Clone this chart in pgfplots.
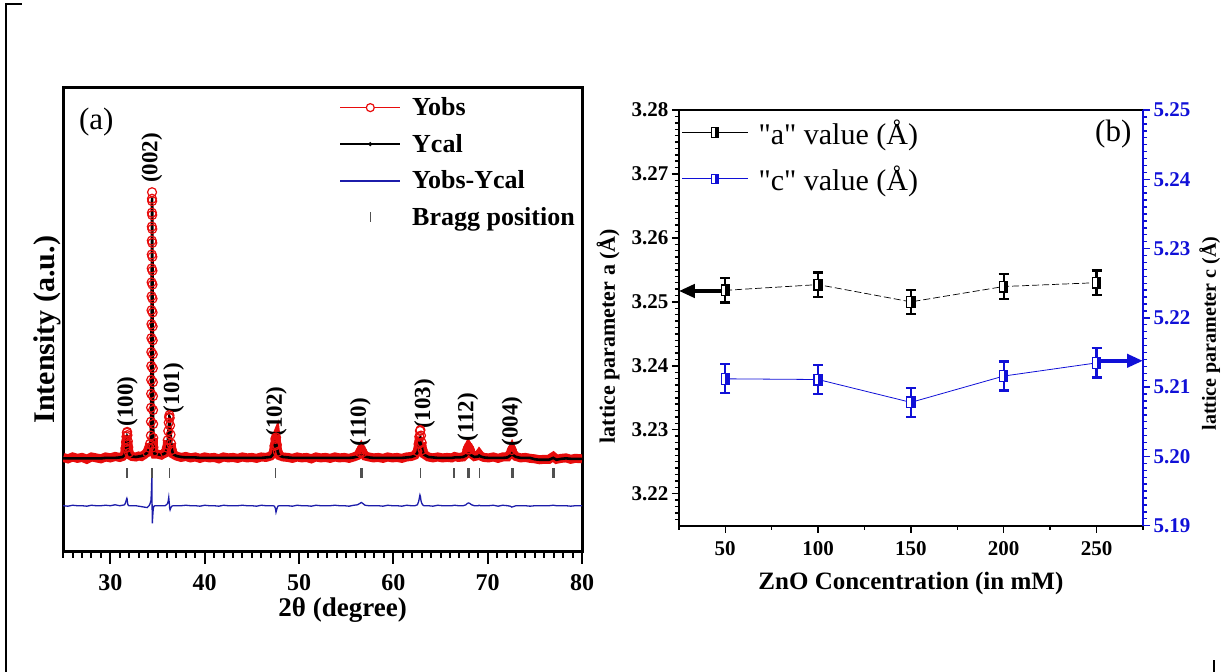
\documentclass[border=0pt]{standalone}
\usepackage{fontspec}
\setmainfont{Liberation Serif}
\usepackage{pgfplots}
\pgfplotsset{compat=1.18}
\usepackage{pgfplotstable}
\usetikzlibrary{plotmarks,arrows.meta}

\definecolor{obsred}{RGB}{232,12,12}
\definecolor{difblue}{RGB}{28,28,170}
\definecolor{axblue}{RGB}{16,16,215}
\definecolor{braggray}{RGB}{80,80,80}

% upright rectangle, left half white, right half in the fill colour
\pgfdeclareplotmark{halfrect}{%
  \begin{pgfscope}
    \pgfsetfillcolor{white}%
    \pgfpathrectangle{\pgfpoint{-0.9\pgfplotmarksize}{-1.2\pgfplotmarksize}}{\pgfpoint{0.9\pgfplotmarksize}{2.4\pgfplotmarksize}}%
    \pgfusepathqfill
  \end{pgfscope}
  \pgfpathrectangle{\pgfpoint{0pt}{-1.2\pgfplotmarksize}}{\pgfpoint{0.9\pgfplotmarksize}{2.4\pgfplotmarksize}}%
  \pgfusepathqfill
  \pgfpathrectangle{\pgfpoint{-0.9\pgfplotmarksize}{-1.2\pgfplotmarksize}}{\pgfpoint{1.8\pgfplotmarksize}{2.4\pgfplotmarksize}}%
  \pgfusepathqstroke
}

% Rietveld refinement: 2theta, observed, calculated, difference (offset)
\pgfplotstableread{
x obs cal dif
25.0 20.3 20.1 9.9
25.5 20.0 20.1 9.8
26.0 20.4 20.1 10.0
26.5 20.1 20.1 9.9
27.0 20.3 20.1 9.9
27.5 19.9 20.1 9.8
28.0 20.4 20.1 10.0
28.5 20.2 20.1 9.9
29.0 20.0 20.1 9.9
29.5 20.4 20.2 10.0
30.0 20.2 20.2 9.9
30.5 20.5 20.2 10.1
31.0 20.3 20.3 9.9
31.3 20.5 20.4 10.0
31.5 21.0 20.8 10.1
31.6 22.3 21.8 10.5
31.66 23.6 22.9 10.9
31.71 24.8 23.7 11.3
31.75 25.6 24.2 11.5
31.78 25.8 24.6 11.3
31.81 25.1 24.4 10.7
31.85 23.8 23.4 10.2
31.9 22.5 22.4 10.0
31.97 21.3 21.3 9.9
32.05 20.8 20.8 9.9
32.3 20.5 20.5 9.9
32.7 20.4 20.4 9.9
33.0 20.6 20.5 9.8
33.3 20.5 20.6 9.7
33.6 20.9 20.8 9.6
33.9 21.4 21.3 9.5
34.1 22.4 22.1 9.9
34.2 23.2 22.7 10.3
34.300 25.0 23.9 11.0
34.310 28.0 26.6 11.3
34.318 31.0 29.3 11.6
34.325 34.0 32.0 11.9
34.332 37.0 34.8 12.1
34.338 40.0 37.5 12.4
34.344 43.0 40.2 12.7
34.350 46.0 42.9 13.0
34.356 49.0 45.6 13.3
34.362 52.0 48.2 13.7
34.368 55.0 50.8 14.1
34.374 58.0 53.3 14.6
34.380 61.0 55.8 15.1
34.386 64.0 58.3 15.6
34.392 67.0 60.8 16.1
34.398 70.0 63.7 16.2
34.405 73.0 67.6 15.3
34.412 76.0 72.3 13.6
34.420 77.4 76.0 11.3
34.428 75.5 76.0 9.4
34.435 72.5 74.4 8.0
34.441 69.5 72.5 6.9
34.447 66.5 70.2 6.2
34.453 63.5 67.3 6.1
34.459 60.5 64.0 6.4
34.465 57.5 60.8 6.6
34.471 54.5 57.6 6.8
34.477 51.5 54.3 7.1
34.483 48.5 51.1 7.3
34.489 45.5 47.9 7.5
34.495 42.5 44.7 7.7
34.501 39.5 41.5 7.9
34.508 36.5 38.3 8.1
34.515 33.5 35.1 8.3
34.523 30.5 31.8 8.6
34.532 27.5 28.6 8.8
34.545 24.5 25.3 9.1
34.565 22.5 23.0 9.4
34.600 21.5 21.7 9.7
34.700 21.0 21.0 9.9
35.0 21.0 21.0 9.9
35.4 20.8 20.8 9.9
35.8 21.3 21.2 9.9
36.0 22.4 22.1 10.2
36.08 24.0 23.4 10.5
36.14 26.0 25.2 11.0
36.19 27.8 26.9 11.7
36.23 29.0 28.4 10.8
36.26 29.4 29.1 10.2
36.29 28.8 29.0 9.3
36.33 27.2 27.9 9.0
36.38 25.2 25.8 9.3
36.44 23.3 23.6 9.6
36.52 21.9 22.0 9.8
36.65 21.0 21.0 9.9
37.0 20.6 20.6 9.9
37.5 20.3 20.4 9.9
38.0 20.5 20.3 10.0
38.5 20.2 20.3 9.9
39.0 20.4 20.3 9.9
39.5 20.1 20.2 9.8
40.0 20.4 20.2 10.0
40.5 20.2 20.2 9.9
41.0 20.3 20.2 9.9
41.5 20.0 20.2 9.8
42.0 20.4 20.2 10.0
42.5 20.2 20.2 9.9
43.0 20.3 20.2 9.9
43.5 20.1 20.2 9.9
44.0 20.4 20.2 10.0
44.5 20.2 20.2 9.9
45.0 20.3 20.2 9.9
45.5 20.1 20.2 9.8
46.0 20.4 20.2 10.0
46.5 20.3 20.3 9.9
47.0 20.6 20.4 9.9
47.25 21.2 21.0 9.9
47.4 22.8 22.6 9.8
47.5 24.3 23.7 9.3
47.56 24.6 23.7 8.5
47.65 23.0 23.0 9.2
47.75 21.5 21.4 9.8
47.9 20.7 20.7 9.9
48.3 20.4 20.4 9.9
48.8 20.3 20.3 9.9
49.3 20.1 20.2 9.8
49.8 20.4 20.2 10.0
50.3 20.2 20.2 9.9
50.8 20.3 20.2 9.9
51.3 20.0 20.2 9.8
51.8 20.4 20.2 10.0
52.3 20.2 20.2 9.9
52.8 20.3 20.2 9.9
53.3 20.1 20.2 9.9
53.8 20.4 20.2 10.0
54.3 20.2 20.2 9.9
54.8 20.3 20.2 9.9
55.3 20.1 20.2 9.8
55.8 20.4 20.3 10.0
56.2 20.7 20.5 10.1
56.45 21.4 20.8 10.4
56.6 22.0 21.0 10.6
56.75 21.4 20.8 10.4
57.0 20.6 20.5 10.0
57.4 20.4 20.3 9.9
57.9 20.2 20.2 9.9
58.4 20.3 20.2 9.9
58.9 20.1 20.2 9.8
59.4 20.4 20.2 10.0
59.9 20.2 20.2 9.9
60.4 20.3 20.2 9.9
60.9 20.1 20.2 9.8
61.4 20.4 20.3 10.0
61.9 20.5 20.4 9.9
62.3 20.8 20.7 9.9
62.55 21.6 21.3 10.1
62.68 23.2 22.3 10.8
62.76 24.8 23.5 11.6
62.82 26.0 24.2 12.2
62.87 26.2 24.5 11.9
62.93 25.0 24.0 11.0
63.0 23.5 22.9 10.5
63.1 21.9 21.6 10.1
63.25 21.0 20.9 9.9
63.7 20.4 20.4 9.9
64.2 20.2 20.3 9.8
64.7 20.4 20.2 10.0
65.2 20.2 20.2 9.9
65.7 20.3 20.2 9.9
66.2 20.2 20.2 9.9
66.5 20.5 20.3 10.0
66.9 20.3 20.3 9.9
67.4 20.4 20.4 9.9
67.7 21.0 20.7 10.1
67.85 22.0 21.1 10.4
67.96 22.5 21.3 10.5
68.1 22.0 21.1 10.4
68.3 21.0 20.7 10.1
68.6 20.5 20.4 9.9
69.0 20.7 20.5 9.9
69.1 21.0 20.7 10.0
69.25 20.6 20.5 9.9
69.6 20.3 20.3 9.9
70.1 20.2 20.2 9.9
70.6 20.4 20.2 10.0
71.1 20.1 20.2 9.8
71.6 20.4 20.2 10.0
72.1 20.4 20.3 9.9
72.4 21.2 20.7 9.8
72.56 21.9 21.1 9.6
72.7 21.2 20.8 9.7
73.0 20.5 20.4 9.9
73.5 20.2 20.2 9.9
74.0 20.3 20.2 9.9
74.5 20.1 20.2 9.8
75.0 20.0 19.9 9.9
75.5 19.8 19.8 9.9
76.0 19.9 19.8 9.9
76.5 19.9 19.8 9.9
76.95 20.5 20.2 10.0
77.3 19.9 19.8 9.9
77.8 20.1 20.0 9.9
78.3 20.2 20.1 9.9
78.8 19.9 20.0 9.8
79.3 20.1 20.0 9.9
80.0 20.0 20.0 9.9
}\xrd

% Bragg reflection positions (tick row)
\pgfplotstableread{
x y
31.77 16.9
34.42 16.9
36.25 16.9
47.54 16.9
56.55 16.9
56.67 16.9
62.86 16.9
66.43 16.9
67.93 16.9
68.07 16.9
69.15 16.9
72.53 16.9
72.67 16.9
76.93 16.9
77.07 16.9
}\bragg

% lattice parameters vs ZnO concentration
\pgfplotstableread{
conc a aerr c cerr
50  3.2518 0.0019 5.2112 0.0021
100 3.2527 0.0019 5.2111 0.0021
150 3.2500 0.0019 5.2078 0.0021
200 3.2524 0.0019 5.2116 0.0021
250 3.2530 0.0019 5.2135 0.0021
}\lattice

\begin{document}
\begin{tikzpicture}
\useasboundingbox (0pt,0pt) rectangle (1224pt,672pt);
\draw[line width=2pt] (6pt,0pt) -- (6pt,668pt) -- (22pt,668pt);
\draw[line width=2pt] (1214pt,0pt) -- (1214pt,12pt);

% ---------------- (a) XRD refinement ----------------
\begin{axis}[
  at={(63.2pt,120.3pt)}, anchor=south west,
  scale only axis, width=518.8pt, height=464.4pt,
  xmin=25, xmax=80, ymin=0, ymax=100,
  ytick=\empty,
  xtick={30,40,...,80},
  minor xtick={25,26,...,80},
  xtick pos=bottom,
  tick align=outside,
  major tick length=12pt, minor tick length=6pt,
  every tick/.style={black, line width=2pt},
  axis line style={line width=3pt},
  /pgf/number format/assume math mode=true,
  xticklabel style={font=\bfseries\fontsize{24}{24}\selectfont, yshift=-7pt},
  xlabel={2θ (degree)},
  xlabel style={font=\bfseries\fontsize{27}{27}\selectfont, xshift=20pt},
  ylabel={Intensity (a.u.)},
  ylabel style={font=\bfseries\fontsize{30}{30}\selectfont,
    at={(axis description cs:-0.031,0.478)}, anchor=center},
  legend image code/.code={\draw[mark repeat=2,mark phase=2,#1] plot coordinates {(0pt,0pt) (30pt,0pt) (60pt,0pt)};},
  legend style={draw=none, fill=none, at={(0.532,0.982)}, anchor=north west,
    font=\bfseries\fontsize{26}{26}\selectfont, row sep=13pt, column sep=9pt, inner sep=0pt},
  legend cell align=left,
]
\addlegendimage{obsred, line width=1.5pt, mark=*, mark size=4pt, mark options={fill=white, line width=1.2pt}}
\addlegendimage{black, line width=1.8pt, mark=*, mark size=1pt}
\addlegendimage{difblue, line width=1.6pt}
\addlegendimage{only marks, braggray, mark=|, mark size=5pt, mark options={line width=1.2pt}}
\legend{Yobs, Ycal, Yobs-Ycal, Bragg position}

% noisy baseline band of the observed pattern
\addplot[forget plot, obsred, line width=9pt, unbounded coords=jump,
  y filter/.expression={y>24.9 ? nan : y}] table[x=x, y=obs] {\xrd};
% observed points on the reflections
\addplot[forget plot, only marks, obsred, mark=o, mark size=4.5pt, mark options={line width=1.2pt},
  unbounded coords=discard, y filter/.expression={y<21.3 ? nan : y}] table[x=x, y=obs] {\xrd};
\addplot[forget plot, black, line width=2.6pt] table[x=x, y=cal] {\xrd};
\addplot[forget plot, difblue, line width=1.3pt] table[x=x, y=dif] {\xrd};
\addplot[forget plot, only marks, braggray, mark=|, mark size=5pt, mark options={line width=1.3pt}] table[x=x, y=y] {\bragg};

\node[font=\fontsize{31}{31}\selectfont] at (axis cs:28.5,92.6) {(a)};
\begin{scope}[every node/.style={rotate=90, anchor=west, inner sep=0pt, font=\bfseries\fontsize{23}{23}\selectfont}]
\node at (axis cs:31.8,26.9) {(100)};
\node at (axis cs:34.4,79.4) {(002)};
\node at (axis cs:36.7,29.8) {(101)};
\node at (axis cs:47.6,24.8) {(102)};
\node at (axis cs:56.5,22.6) {(110)};
\node at (axis cs:63.3,26.4) {(103)};
\node at (axis cs:67.9,23.7) {(112)};
\node at (axis cs:72.6,22.6) {(004)};
\end{scope}
\end{axis}

% ---------------- (b) lattice parameters, left scale a ----------------
\begin{axis}[
  at={(678.8pt,146.3pt)}, anchor=south west,
  scale only axis, width=464.2pt, height=415.7pt,
  xmin=25, xmax=275, ymin=3.215, ymax=3.28,
  xtick={50,100,...,250},
  minor xtick={25,75,...,275},
  ytick={3.22,3.23,3.24,3.25,3.26,3.27,3.28},
  minor ytick={3.216,3.217,...,3.2801},
  xtick pos=bottom, ytick pos=left,
  tick align=outside,
  major tick length=7pt, minor tick length=4pt,
  every tick/.style={black, line width=1.4pt},
  axis line style={line width=2pt},
  /pgf/number format/assume math mode=true,
  xticklabel style={font=\bfseries\fontsize{21}{21}\selectfont, yshift=-5pt},
  yticklabel style={font=\bfseries\fontsize{21}{21}\selectfont,
    /pgf/number format/.cd, fixed, fixed zerofill, precision=2},
  xlabel={ZnO Concentration (in mM)},
  xlabel style={font=\bfseries\fontsize{25}{25}\selectfont, yshift=-10pt},
  ylabel={lattice parameter a (Å)},
  ylabel style={font=\bfseries\fontsize{22}{22}\selectfont,
    at={(axis description cs:-0.1525,0.456)}, anchor=center},
  legend image code/.code={\draw[mark repeat=2,mark phase=2,#1] plot coordinates {(0pt,0pt) (33pt,0pt) (66pt,0pt)};},
  legend style={draw=none, fill=none, at={(0.006,0.982)}, anchor=north west,
    font=\fontsize{30}{30}\selectfont, row sep=16pt, column sep=8pt, inner sep=0pt},
  legend cell align=left,
]
\addlegendimage{black, line width=0.8pt, mark=halfrect, mark size=4pt, mark options={fill=black, line width=1pt}}
\addlegendimage{axblue, line width=0.8pt, mark=halfrect, mark size=4pt, mark options={fill=axblue, line width=1pt}}
\legend{\textquotedbl a\textquotedbl{} value (Å), \textquotedbl c\textquotedbl{} value (Å)}

\addplot[forget plot, black, line width=0.7pt, dash pattern=on 7pt off 3pt,
  mark=halfrect, mark size=4.5pt, mark options={solid, fill=black, line width=1.2pt},
  error bars/.cd, y dir=both, y explicit,
  error bar style={line width=2.2pt, solid},
  error mark options={rotate=90, mark size=5pt, line width=2.2pt}]
  table[x=conc, y=a, y error=aerr] {\lattice};

\draw[black, line width=4pt, -{Triangle[length=16pt, width=13pt]}] (axis cs:47.8,3.2517) -- (axis cs:25,3.2517);
\node[font=\fontsize{31}{31}\selectfont] at (axis cs:259,3.2763) {(b)};
\end{axis}

% ---------------- (b) right scale c ----------------
\begin{axis}[
  at={(678.8pt,146.3pt)}, anchor=south west,
  scale only axis, width=464.2pt, height=415.7pt,
  xmin=25, xmax=275, ymin=5.19, ymax=5.25,
  axis y line*=right, axis x line=none,
  ytick={5.19,5.20,5.21,5.22,5.23,5.24,5.25},
  minor ytick={5.191,5.192,...,5.2501},
  tick align=outside,
  major tick length=7pt, minor tick length=4pt,
  every tick/.style={axblue, line width=1.4pt},
  y axis line style={axblue, line width=2pt},
  /pgf/number format/assume math mode=true,
  yticklabel style={axblue, font=\bfseries\fontsize{21}{21}\selectfont,
    /pgf/number format/.cd, fixed, fixed zerofill, precision=2},
  ylabel={lattice parameter c (Å)},
  ylabel style={font=\bfseries\fontsize{20}{20}\selectfont,
    at={(axis description cs:1.1435,0.462)}, anchor=center},
]
\addplot[axblue, line width=0.8pt,
  mark=halfrect, mark size=4.5pt, mark options={fill=axblue, line width=1.2pt},
  error bars/.cd, y dir=both, y explicit,
  error bar style={line width=2.2pt},
  error mark options={rotate=90, mark size=5pt, line width=2.2pt}]
  table[x=conc, y=c, y error=cerr] {\lattice};

\draw[axblue, line width=4pt, -{Triangle[length=16pt, width=13pt]}] (axis cs:252.5,5.2138) -- (axis cs:275,5.2138);
\end{axis}
\end{tikzpicture}
\end{document}
